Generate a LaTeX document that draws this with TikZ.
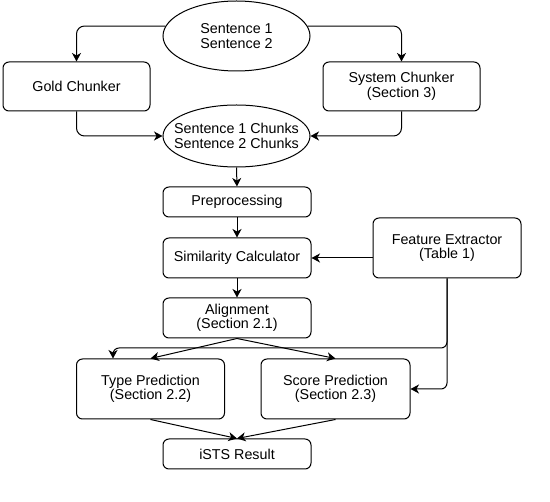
\documentclass[tikz,border=0pt]{standalone}
\usepackage{fontspec}
\setmainfont{Liberation Sans}
\usetikzlibrary{arrows.meta, shapes.geometric, calc}

\tikzset{
    box/.style={draw, rounded corners=6pt, line width=1pt, align=center, minimum width=148pt},
    oval/.style={draw, ellipse, line width=1pt, align=center, inner xsep=-14pt, inner ysep=0pt, minimum width=147pt},
    line/.style={-{Stealth[length=8.5pt,width=9pt,inset=2.5pt]}, line width=1pt},
}

\begin{document}
\begin{tikzpicture}[x=1pt, y=-1pt, font=\fontsize{14.3}{14.5}\selectfont]
        \useasboundingbox (0,0) rectangle (550,502);

        % inputs
        \node[oval, minimum height=70pt] (sent) at (236.5,36) {Sentence 1\\Sentence 2};
        \node[box, minimum height=49pt, minimum width=147pt] (gold) at (76.5,86.5) {Gold Chunker};
        \node[box, minimum height=49pt, minimum width=157pt] (sys) at (401.5,86.5) {System Chunker\\(Section 3)};
        \node[oval, minimum height=62pt] (chunks) at (236.5,136) {Sentence 1 Chunks\\Sentence 2 Chunks};

        % pipeline
        \node[box, minimum height=30pt] (pre) at (237,202) {Preprocessing};
        \node[box, minimum height=40pt] (sim) at (237,258) {Similarity Calculator};
        \node[box, minimum height=60pt] (feat) at (447,248) {Feature Extractor\\(Table 1)};
        \node[box, minimum height=40pt] (align) at (237,318) {Alignment\\(Section 2.1)};
        \node[box, minimum height=60pt] (type) at (150.5,389) {Type Prediction\\(Section 2.2)};
        \node[box, minimum height=60pt, minimum width=149pt] (score) at (335.5,389) {Score Prediction\\(Section 2.3)};
        \node[box, minimum height=30pt] (result) at (237,454) {iSTS Result};

        \coordinate (fork) at (447,348);

        \draw[line, rounded corners=8pt] (sent.172) -| (gold.north);
        \draw[line, rounded corners=8pt] (sent.8) -| (sys.north);
        \draw[line, rounded corners=8pt] (gold.south) |- (chunks.west);
        \draw[line, rounded corners=8pt] (sys.south) |- (chunks.east);

        \draw[line] (chunks.south) -- (pre.north);
        \draw[line] (pre) -- (sim);
        \draw[line] (feat.west |- sim.east) -- (sim.east);
        \draw[line] (sim) -- (align);
        \draw[line] (align.south) -- (type.north);
        \draw[line] (align.south) -- (score.north);

        \draw[line, rounded corners=6pt] (feat.south) -- (fork) -| ([xshift=-37.5pt]type.north);
        \draw[line, rounded corners=6pt] (feat.south) |- (score.east);

        \draw[line] (type.south) -- (result.north);
        \draw[line] (score.south) -- (result.north);
\end{tikzpicture}
\end{document}
